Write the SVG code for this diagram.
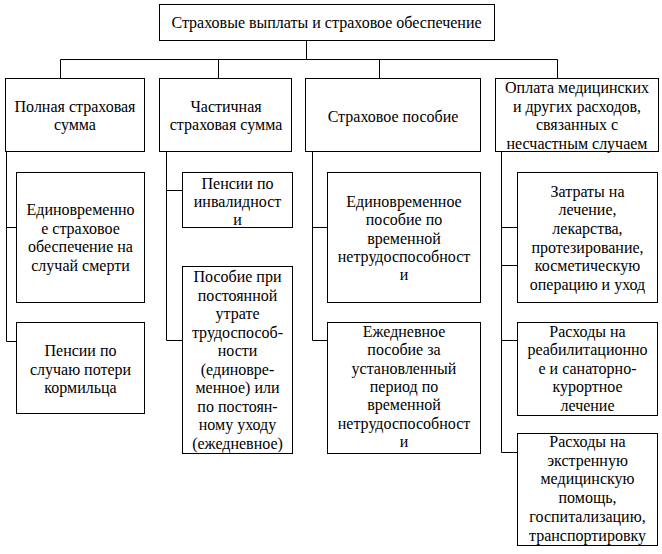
<svg xmlns="http://www.w3.org/2000/svg" width="662" height="554" viewBox="0 0 662 554">
<style>
rect{fill:#fff;stroke:#000;stroke-width:1}
text{font-family:"Liberation Serif","Times New Roman",serif;font-size:16px;fill:#000;text-anchor:middle}
.c{fill:none;stroke:#000;stroke-width:1}
</style>
<rect x="0" y="0" width="662" height="554" style="stroke:none"/>
<g id="connectors">
<path class="c" d="M306.5 40.5V59.5M60.5 78.5V59.5H557.5V78.5M218.5 59.5V78.5M379.5 59.5V78.5"/>
<path class="c" d="M6.5 151.5V341.5H16.5M6.5 227.5H16.5"/>
<path class="c" d="M166.5 151.5V340.5H182.5M166.5 190.5H182.5"/>
<path class="c" d="M312.5 151.5V340.5H327.5M312.5 227.5H327.5"/>
<path class="c" d="M501.5 151.5V452.5H517.5M501.5 227.5H517.5M501.5 265.5H517.5M501.5 340.5H517.5"/>
</g>
<g id="root">
<rect x="159.5" y="4.5" width="335" height="36"/>
<text x="326.5" y="28">Страховые выплаты и страховое обеспечение</text>
</g>
<g id="full">
<rect x="5.5" y="78.5" width="139" height="73"/>
<text x="75" y="112">Полная страховая</text>
<text x="75" y="130">сумма</text>
</g>
<g id="partial">
<rect x="159.5" y="78.5" width="132" height="73"/>
<text x="226" y="112">Частичная</text>
<text x="226" y="130">страховая сумма</text>
</g>
<g id="benefit">
<rect x="305.5" y="78.5" width="175" height="73"/>
<text x="393" y="122">Страховое пособие</text>
</g>
<g id="medical">
<rect x="495.5" y="78.5" width="163" height="73"/>
<text x="577" y="93">Оплата медицинских</text>
<text x="577" y="111.5">и других расходов,</text>
<text x="577" y="130">связанных с</text>
<text x="577" y="148.5">несчастным случаем</text>
</g>
<g id="death">
<rect x="16.5" y="172.5" width="128" height="130"/>
<text x="80.5" y="215">Единовременно</text>
<text x="80.5" y="233.7">е страховое</text>
<text x="80.5" y="252.3">обеспечение на</text>
<text x="80.5" y="271">случай смерти</text>
</g>
<g id="survivor">
<rect x="16.5" y="322.5" width="128" height="91"/>
<text x="80.5" y="356">Пенсии по</text>
<text x="80.5" y="374.5">случаю потери</text>
<text x="80.5" y="393">кормильца</text>
</g>
<g id="disability">
<rect x="182.5" y="172.5" width="110" height="55"/>
<text x="237.5" y="188.5">Пенсии по</text>
<text x="237.5" y="207">инвалидност</text>
<text x="237.5" y="225">и</text>
</g>
<g id="permanent">
<rect x="182.5" y="266.5" width="110" height="187"/>
<text x="237.5" y="282">Пособие при</text>
<text x="237.5" y="300.5">постоянной</text>
<text x="237.5" y="319">утрате</text>
<text x="237.5" y="337.5">трудоспособ-</text>
<text x="237.5" y="356">ности</text>
<text x="237.5" y="374.5">(единовре-</text>
<text x="237.5" y="393">менное) или</text>
<text x="237.5" y="411.5">по постоян-</text>
<text x="237.5" y="430">ному уходу</text>
<text x="237.5" y="448.5">(ежедневное)</text>
</g>
<g id="lump">
<rect x="327.5" y="172.5" width="153" height="130"/>
<text x="404" y="206.7">Единовременное</text>
<text x="404" y="225.1">пособие по</text>
<text x="404" y="243.5">временной</text>
<text x="404" y="261.9">нетрудоспособност</text>
<text x="404" y="280.3">и</text>
</g>
<g id="daily">
<rect x="327.5" y="322.5" width="153" height="131"/>
<text x="404" y="337">Ежедневное</text>
<text x="404" y="355.3">пособие за</text>
<text x="404" y="373.6">установленный</text>
<text x="404" y="391.9">период по</text>
<text x="404" y="410.2">временной</text>
<text x="404" y="428.5">нетрудоспособност</text>
<text x="404" y="446.8">и</text>
</g>
<g id="treatment">
<rect x="517.5" y="172.5" width="140" height="130"/>
<text x="587.5" y="196.7">Затраты на</text>
<text x="587.5" y="215.4">лечение,</text>
<text x="587.5" y="234">лекарства,</text>
<text x="587.5" y="252.7">протезирование,</text>
<text x="587.5" y="271.3">косметическую</text>
<text x="587.5" y="290">операцию и уход</text>
</g>
<g id="rehab">
<rect x="517.5" y="322.5" width="140" height="93"/>
<text x="587.5" y="336.7">Расходы на</text>
<text x="587.5" y="355.2">реабилитационно</text>
<text x="587.5" y="373.7">е и санаторно-</text>
<text x="587.5" y="392.2">курортное</text>
<text x="587.5" y="410.7">лечение</text>
</g>
<g id="emergency">
<rect x="517.5" y="433.5" width="140" height="112"/>
<text x="587.5" y="446.7">Расходы на</text>
<text x="587.5" y="465.5">экстренную</text>
<text x="587.5" y="484.3">медицинскую</text>
<text x="587.5" y="503.1">помощь,</text>
<text x="587.5" y="521.9">госпитализацию,</text>
<text x="587.5" y="540.7">транспортировку</text>
</g>
</svg>
